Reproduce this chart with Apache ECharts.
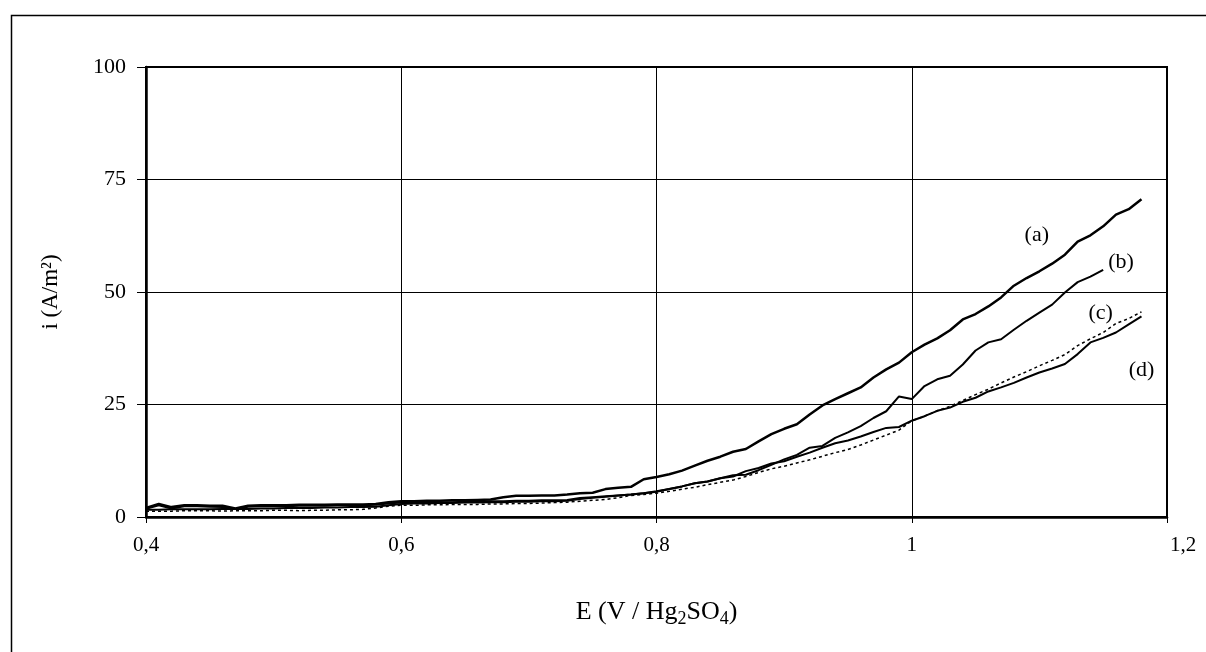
<!DOCTYPE html>
<html>
<head>
<meta charset="utf-8">
<script src="https://cdn.jsdelivr.net/npm/echarts@6/dist/echarts.min.js"></script>
<style>
  html, body { margin: 0; padding: 0; background: #fff; }
  #chart { width: 1206px; height: 652px; }
</style>
</head>
<body>
<div id="chart"></div>
<script>
(function() {
  'use strict';

  // potentiel E (V / Hg2SO4)
  var potential = [
    0.40, 0.41, 0.42, 0.43, 0.44, 0.45, 0.46, 0.47, 0.48, 0.49,
    0.50, 0.51, 0.52, 0.53, 0.54, 0.55, 0.56, 0.57, 0.58, 0.59,
    0.60, 0.61, 0.62, 0.63, 0.64, 0.65, 0.66, 0.67, 0.68, 0.69,
    0.70, 0.71, 0.72, 0.73, 0.74, 0.75, 0.76, 0.77, 0.78, 0.79,
    0.80, 0.81, 0.82, 0.83, 0.84, 0.85, 0.86, 0.87, 0.88, 0.89,
    0.90, 0.91, 0.92, 0.93, 0.94, 0.95, 0.96, 0.97, 0.98, 0.99,
    1.00, 1.01, 1.02, 1.03, 1.04, 1.05, 1.06, 1.07, 1.08, 1.09,
    1.10, 1.11, 1.12, 1.13, 1.14, 1.15, 1.16, 1.17, 1.18
  ];

  // densite de courant i (A/m2)
  var curveA = [
    2.0, 2.9, 2.2, 2.6, 2.6, 2.5, 2.5, 1.9, 2.5, 2.6,
    2.6, 2.6, 2.7, 2.7, 2.7, 2.8, 2.8, 2.8, 2.9, 3.3,
    3.5, 3.5, 3.6, 3.6, 3.7, 3.7, 3.8, 3.9, 4.4, 4.7,
    4.7, 4.8, 4.8, 5.0, 5.3, 5.4, 6.2, 6.5, 6.7, 8.4,
    8.9, 9.5, 10.3, 11.4, 12.5, 13.4, 14.5, 15.1, 16.8, 18.4,
    19.6, 20.6, 22.8, 24.8, 26.2, 27.5, 28.8, 31.0, 32.8, 34.3,
    36.6, 38.3, 39.7, 41.5, 43.9, 45.1, 46.8, 48.8, 51.4, 53.1,
    54.6, 56.3, 58.3, 61.2, 62.6, 64.6, 67.2, 68.4, 70.6
  ];
  var curveB = [
    1.8, 2.6, 1.9, 2.4, 2.4, 2.3, 2.2, 1.8, 2.3, 2.4,
    2.4, 2.4, 2.5, 2.5, 2.5, 2.6, 2.6, 2.6, 2.7, 3.0,
    3.2, 3.2, 3.3, 3.3, 3.3, 3.4, 3.4, 3.5, 3.5, 3.6,
    3.6, 3.7, 3.7, 3.8, 4.2, 4.4, 4.6, 4.8, 5.0, 5.3,
    5.7, 6.2, 6.8, 7.5, 7.9, 8.6, 9.3, 9.4, 10.4, 11.6,
    12.8, 13.8, 15.4, 15.8, 17.6, 18.8, 20.2, 22.0, 23.5, 26.8,
    26.2, 29.1, 30.6, 31.4, 33.9, 37.0, 38.8, 39.5, 41.6, 43.6,
    45.4, 47.2, 49.9, 52.2, 53.4, 54.9, null, null, null
  ];
  var curveC = [
    1.3, 1.3, 1.3, 1.4, 1.4, 1.4, 1.3, 1.4, 1.4, 1.4,
    1.5, 1.5, 1.4, 1.5, 1.5, 1.6, 1.6, 1.7, 2.0, 2.4,
    2.6, 2.6, 2.7, 2.7, 2.8, 2.8, 2.8, 2.9, 2.9, 3.0,
    3.0, 3.1, 3.2, 3.3, 3.5, 3.7, 3.9, 4.3, 4.8, 5.0,
    5.3, 5.7, 6.2, 6.6, 7.2, 7.7, 8.2, 9.0, 9.9, 10.7,
    11.3, 12.0, 12.7, 13.5, 14.3, 15.0, 16.0, 17.1, 18.2, 19.3,
    21.4, 22.4, 23.6, 24.6, 25.9, 27.2, 28.4, 29.8, 31.1, 32.3,
    33.6, 34.8, 36.1, 38.1, 39.6, 41.0, 43.0, 44.1, 45.6
  ];
  var curveD = [
    1.6, 1.6, 1.7, 1.7, 1.7, 1.7, 1.8, 1.8, 1.8, 1.9,
    1.9, 2.0, 2.0, 2.0, 2.1, 2.1, 2.2, 2.2, 2.3, 2.6,
    2.9, 3.0, 3.0, 3.1, 3.1, 3.2, 3.2, 3.3, 3.3, 3.4,
    3.4, 3.5, 3.5, 3.6, 4.0, 4.3, 4.5, 4.8, 5.0, 5.3,
    5.6, 6.2, 6.8, 7.5, 7.9, 8.6, 9.0, 10.2, 10.9, 11.9,
    12.4, 13.4, 14.3, 15.4, 16.4, 17.0, 17.9, 18.9, 19.8, 20.0,
    21.4, 22.4, 23.6, 24.3, 25.6, 26.5, 27.9, 28.8, 29.8, 31.0,
    32.1, 33.0, 34.0, 36.2, 38.8, 39.8, 41.0, 42.8, 44.6
  ];

  var curveNames = ['(a)', '(b)', '(c)', '(d)'];
  // position des etiquettes [E, i]
  var labelAt = [[1.098, 62.7], [1.164, 56.7], [1.148, 45.3], [1.180, 32.7]];

  var xTicks = [0.4, 0.6, 0.8, 1.0, 1.2];
  var yTicks = [0, 25, 50, 75, 100];

  var serif = '"Liberation Serif", "Times New Roman", serif';

  function pairs(values) {
    var out = [];
    for (var k = 0; k < potential.length; k++) {
      if (values[k] != null) out.push([potential[k], values[k]]);
    }
    return out;
  }

  function curve(idx, values, width, dash) {
    return {
      name: curveNames[idx],
      type: 'line',
      data: pairs(values),
      showSymbol: false,
      smooth: false,
      lineStyle: { color: '#000', width: width, type: dash || 'solid' },
      markPoint: {
        symbol: 'circle',
        symbolSize: 1,
        itemStyle: { color: 'rgba(0,0,0,0)' },
        label: {
          show: true, position: 'inside', formatter: curveNames[idx],
          color: '#000', fontFamily: serif, fontSize: 22
        },
        data: [{ coord: labelAt[idx] }]
      }
    };
  }

  var myChart = echarts.init(document.getElementById('chart'));
  myChart.setOption({
    animation: false,
    backgroundColor: '#fff',
    graphic: [{
      type: 'rect',
      left: 9, top: 13,
      shape: { width: 1300, height: 700 },
      style: { fill: 'none', stroke: '#000', lineWidth: 1.5 }
    }],
    grid: {
      left: 146, right: 39, top: 67, bottom: 135,
      show: true, borderColor: '#000', borderWidth: 2
    },
    xAxis: {
      type: 'value',
      min: xTicks[0], max: xTicks[xTicks.length - 1], interval: 0.2,
      name: 'E (V / Hg{s|2}SO{s|4})',
      nameLocation: 'middle',
      nameGap: 79,
      nameTextStyle: {
        color: '#000', fontFamily: serif, fontSize: 26,
        rich: { s: { fontFamily: serif, fontSize: 18, padding: [14, 0, 0, 0], color: '#000' } }
      },
      axisLine: { lineStyle: { color: '#000', width: 2.5 } },
      axisTick: { show: true, length: 6, lineStyle: { color: '#000' } },
      splitLine: { show: true, lineStyle: { color: '#000', width: 1 } },
      axisLabel: {
        margin: 18, color: '#000', fontFamily: serif, fontSize: 21,
        formatter: function(v) {
          var s = String(+v.toFixed(1)).replace('.', ',');
          return v > 1.19 ? '{r|' + s + '}' : s;
        },
        rich: { r: { fontFamily: serif, fontSize: 21, color: '#000', padding: [0, 0, 0, 32] } }
      }
    },
    yAxis: {
      type: 'value',
      min: yTicks[0], max: yTicks[yTicks.length - 1], interval: 25,
      name: 'i (A/m²)',
      nameLocation: 'middle',
      nameRotate: 90,
      nameGap: 84,
      nameTextStyle: { color: '#000', fontFamily: serif, fontSize: 23 },
      axisLine: { show: true, lineStyle: { color: '#000', width: 2.5 } },
      axisTick: { show: true, length: 9, lineStyle: { color: '#000' } },
      splitLine: { show: true, lineStyle: { color: '#000', width: 1 } },
      axisLabel: { margin: 20, color: '#000', fontFamily: serif, fontSize: 22 }
    },
    series: [
      curve(0, curveA, 2.5),
      curve(1, curveB, 2),
      curve(2, curveC, 1.5, [3, 3]),
      curve(3, curveD, 2)
    ]
  });
})();
</script>
</body>
</html>
